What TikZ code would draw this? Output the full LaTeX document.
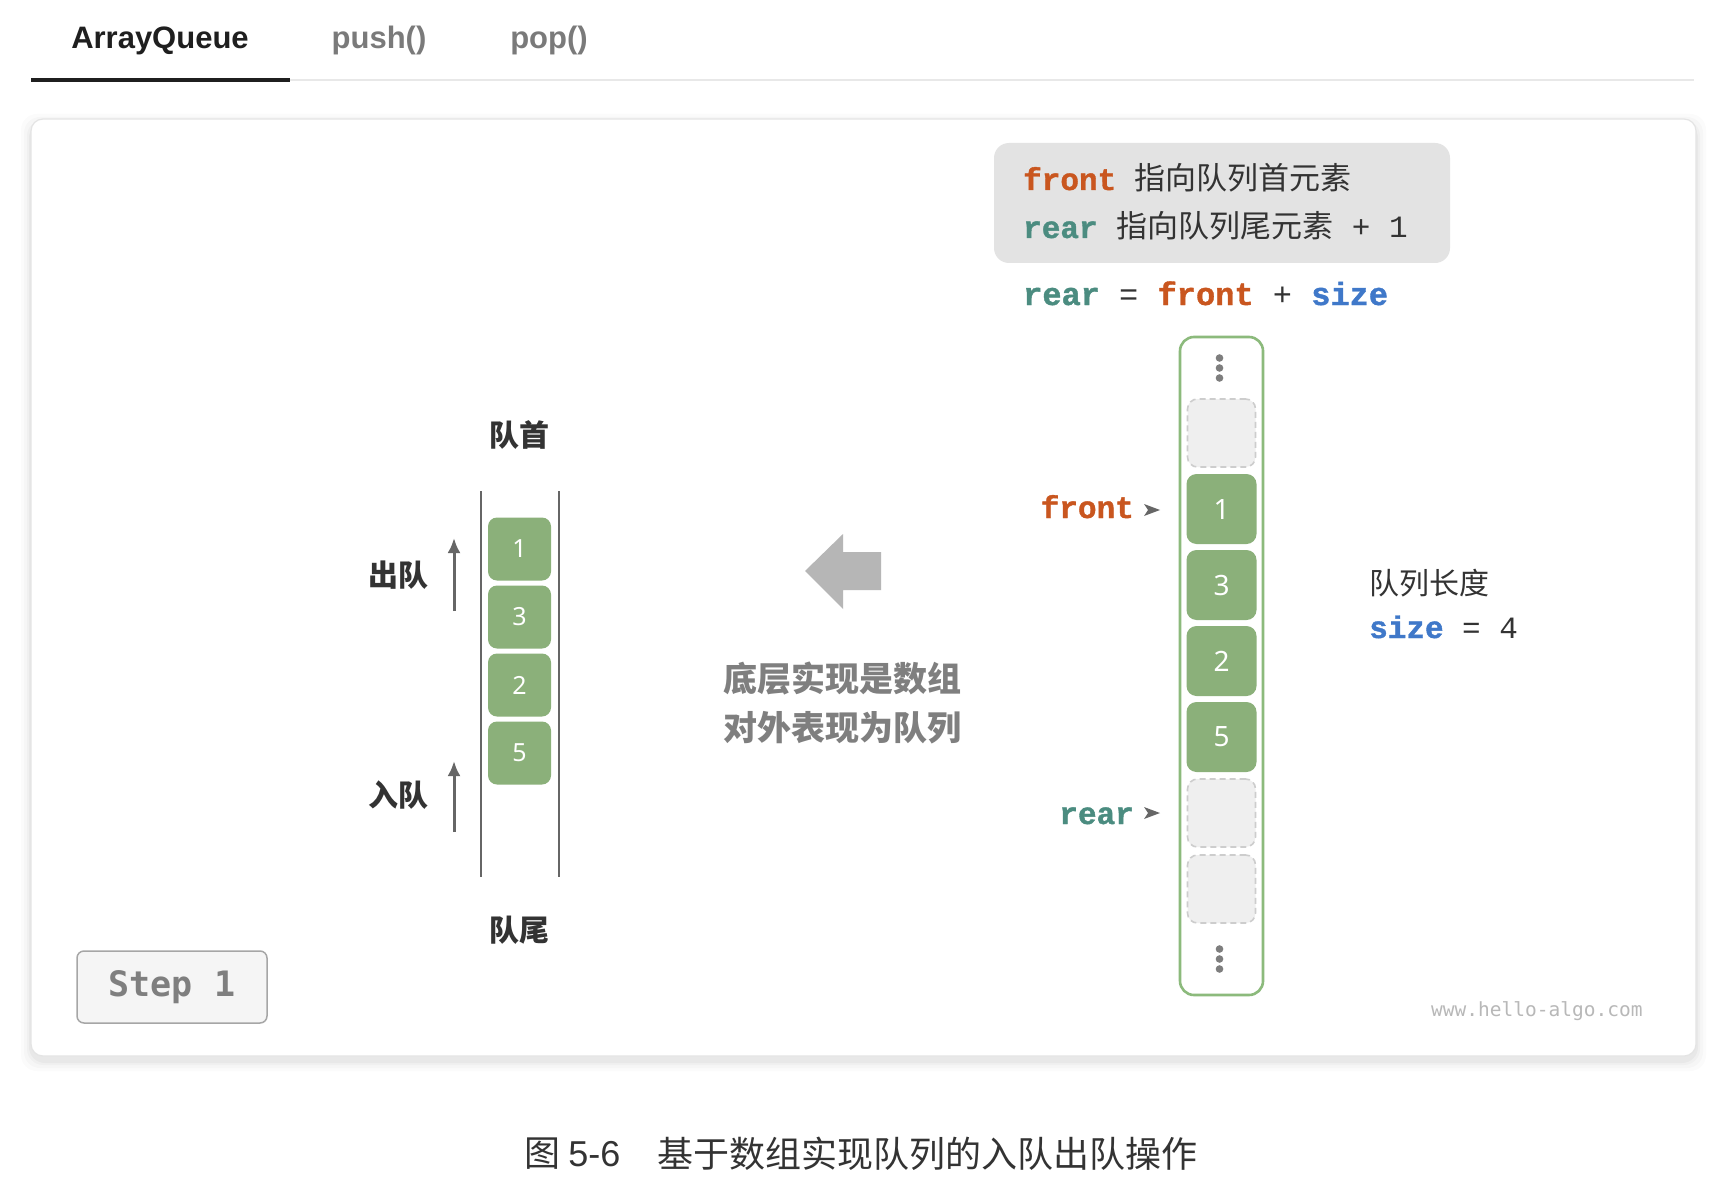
\documentclass[tikz,border=0pt]{standalone}
\usepackage{fontspec}
\setmainfont{Liberation Sans}
\newfontfamily\cjk{Noto Sans CJK SC}
\newfontfamily\codef{Liberation Mono}[BoldFeatures={FakeBold=1.2}]
\newfontfamily\wmf{DejaVu Sans Mono}
\newfontfamily\numf{Noto Sans}
\usetikzlibrary{arrows.meta}
\newcommand\myfs[1]{\fontsize{#1}{#1}\selectfont}
\definecolor{cfront}{HTML}{C9561F}
\definecolor{crear}{HTML}{4B8C80}
\definecolor{csize}{HTML}{3F78C9}
\definecolor{cellgreen}{HTML}{8BB07A}
\definecolor{boxgreen}{HTML}{8CBA7C}
\definecolor{emptyfill}{HTML}{EFEFEF}
\definecolor{emptydraw}{HTML}{CDCDCD}
\definecolor{txtdark}{HTML}{333333}
\definecolor{tabdark}{HTML}{1F1F1F}
\definecolor{tabgray}{HTML}{7A7A7A}
\definecolor{linegray}{HTML}{E8E8E8}
\definecolor{cardborder}{HTML}{E4E4E4}
\definecolor{legendfill}{HTML}{E3E3E3}
\definecolor{dotgray}{HTML}{7E7E7E}
\definecolor{biggray}{HTML}{B6B6B6}
\definecolor{midtext}{HTML}{7F7F7F}
\definecolor{arrowgray}{HTML}{666666}
\tikzset{
  tab/.style={anchor=base, inner sep=0pt, font=\bfseries\myfs{31}},
  lbl/.style={inner sep=0pt, font=\cjk\bfseries\myfs{30}, text=txtdark},
  midlbl/.style={inner sep=0pt, font=\cjk\bfseries\myfs{34}, text=midtext},
  cellR/.style={fill=cellgreen, rounded corners=10pt, minimum width=70pt, minimum height=70pt, inner sep=0pt, text=white, font=\numf\myfs{28}},
  emptyR/.style={fill=emptyfill, draw=emptydraw, line width=1.6pt, dash pattern=on 6pt off 4pt, rounded corners=10pt, minimum width=68pt, minimum height=68pt, inner sep=0pt},
  cellL/.style={fill=cellgreen, rounded corners=9pt, minimum width=63pt, minimum height=63pt, inner sep=0pt, text=white, font=\numf\myfs{25}},
  qarrow/.style={draw=arrowgray, line width=3pt, -{Latex[length=15pt,width=13pt]}},
  ptrlbl/.style={anchor=base east, inner sep=0pt, font=\codef\bfseries\myfs{31}},
  ptrhead/.style={fill=arrowgray},
}
\begin{document}
\begin{tikzpicture}[x=1pt,y=-1pt]
\useasboundingbox (0,0) rectangle (1712,1190);
\fill[white] (0,0) rectangle (1712,1190);

% tabs
\node[tab, text=tabdark] (tabA) at (160,49) {ArrayQueue};
\node[tab, text=tabgray] (tabB) at (379,49) {push()};
\node[tab, text=tabgray] (tabC) at (549,49) {pop()};
\fill[linegray] (31,79) rectangle (1694,81);
\fill[tabdark] (31,78) rectangle (290,82);

% card with shadow
\foreach \i/\o in {10/0.015,7/0.02,4/0.025,2/0.03}
  \fill[black, opacity=\o, rounded corners=16pt] (31-\i,119-\i+5) rectangle (1696+\i,1056+\i+5);
\draw[cardborder, fill=white, rounded corners=12pt, line width=1.2pt] (31,119) rectangle (1696,1056);

% legend
\node[fill=legendfill, rounded corners=15pt, minimum width=456pt, minimum height=120pt, inner sep=0pt] (legend) at (1222,203) {};
\node[anchor=base west, inner sep=0pt, text=txtdark] (lg1) at (1023,190)
  {\codef\myfs{31}{\bfseries\color{cfront}front} {\cjk\myfs{31}指向队列首元素}};
\node[anchor=base west, inner sep=0pt, text=txtdark] (lg2) at (1023,238)
  {\codef\myfs{31}{\bfseries\color{crear}rear} {\cjk\myfs{31}指向队列尾元素} + 1};
\node[anchor=base west, inner sep=0pt, text=txtdark] (lg3) at (1023,305)
  {\codef\myfs{32}{\bfseries\color{crear}rear} = {\bfseries\color{cfront}front} + {\bfseries\color{csize}size}};

% right array
\node[draw=boxgreen, line width=2.6pt, rounded corners=14pt, minimum width=83pt, minimum height=658pt, inner sep=0pt, fill=white] (arr) at (1221.5,666) {};
\node[emptyR] (r0) at (1221.5,433) {};
\node[cellR] (r1) at (1221.5,509) {1};
\node[cellR] (r2) at (1221.5,585) {3};
\node[cellR] (r3) at (1221.5,661) {2};
\node[cellR] (r4) at (1221.5,737) {5};
\node[emptyR] (r5) at (1221.5,813) {};
\node[emptyR] (r6) at (1221.5,889) {};
\foreach \yy in {358,368,378,949,959,969}
  \fill[dotgray] (1219.5,\yy) circle (3.8pt);

% pointers
\node[ptrlbl, text=cfront] (pf) at (1134,518) {front};
\node[ptrlbl, text=crear] (pr) at (1134,824) {rear};
\fill[ptrhead] (1144,504) -- (1160,510) -- (1144,516) -- (1148,510) -- cycle;
\fill[ptrhead] (1144,807) -- (1160,813) -- (1144,819) -- (1148,813) -- cycle;

% size
\node[anchor=west, inner sep=0pt, font=\cjk\myfs{30}, text=txtdark] (szl) at (1369,583) {队列长度};
\node[anchor=base west, inner sep=0pt, text=txtdark] (szv) at (1369,638)
  {\codef\myfs{31}{\bfseries\color{csize}size} = 4};

% big arrow
\fill[biggray] (805,571) -- (843,534) -- (843,552) -- (881,552) -- (881,590) -- (843,590) -- (843,609) -- cycle;
\node[midlbl] (m1) at (842,679) {底层实现是数组};
\node[midlbl] (m2) at (842,728) {对外表现为队列};

% left queue
\coordinate (lt1) at (481,491);
\coordinate (lb1) at (481,877);
\coordinate (lt2) at (559,491);
\coordinate (lb2) at (559,877);
\draw[arrowgray, line width=1.6pt] (lt1) -- (lb1);
\draw[arrowgray, line width=1.6pt] (lt2) -- (lb2);
\node[cellL] (q1) at (519.5,549) {1};
\node[cellL] (q2) at (519.5,617) {3};
\node[cellL] (q3) at (519.5,685) {2};
\node[cellL] (q4) at (519.5,753) {5};
\node[lbl] (head) at (519,435) {队首};
\node[lbl] (tail) at (519,930) {队尾};
\node[lbl] (deq) at (398,575) {出队};
\node[lbl] (enq) at (398,795) {入队};
\coordinate (deqS) at (454,611);
\coordinate (deqE) at (454,538);
\coordinate (enqS) at (454,832);
\coordinate (enqE) at (454,761);
\draw[qarrow] (deqS) -- (deqE);
\draw[qarrow] (enqS) -- (enqE);

% step box
\node[fill=black!4, draw=black!35, line width=1.5pt, rounded corners=7pt, minimum width=190pt, minimum height=72pt, inner sep=0pt, text=midtext, font=\wmf\bfseries\myfs{35}] (step) at (172,987) {Step 1};

% watermark
\node[anchor=base west, inner sep=0pt, text=black!28, font=\wmf\myfs{19.5}] (wm) at (1431,1016) {www.hello-algo.com};

% caption
\node[anchor=west, inner sep=0pt, text=txtdark, font=\cjk\myfs{36}] (cap1) at (524,1154) {图 {\rmfamily 5-6}};
\node[anchor=west, inner sep=0pt, text=txtdark, font=\cjk\myfs{36}] (cap2) at (657,1154) {基于数组实现队列的入队出队操作};
\end{tikzpicture}
\end{document}
